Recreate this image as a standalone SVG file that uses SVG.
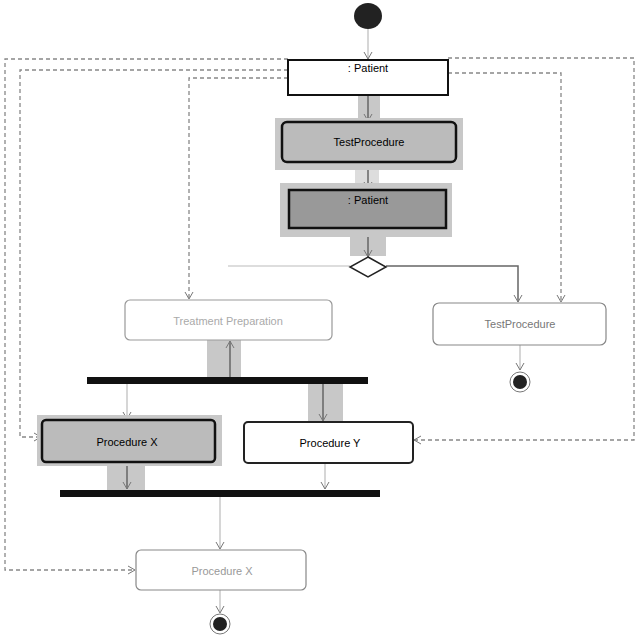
<svg xmlns="http://www.w3.org/2000/svg" width="640" height="640" viewBox="0 0 640 640">
<defs>
<marker id="arr" markerWidth="10" markerHeight="10" refX="8" refY="5" orient="auto" markerUnits="userSpaceOnUse">
<path d="M1,1 L8,5 L1,9" fill="none" stroke="#777" stroke-width="1"/>
</marker>
<style>
text{font-family:"Liberation Sans",Arial,sans-serif;font-size:11px;text-anchor:middle;dominant-baseline:middle}
.band{fill:#c8c8c8}
.flow{fill:none;stroke:#666;stroke-width:1.5}
.faint{fill:none;stroke:#bbb;stroke-width:1.2}
.dash{fill:none;stroke:#888;stroke-width:1.3;stroke-dasharray:4,3}
.bar{fill:#111}
</style>
</defs>
<rect width="640" height="640" fill="#fff"/>
<g id="connectors">
<rect class="band" x="358" y="95" width="22" height="25"/>
<rect x="355" y="170" width="24" height="13" fill="#ddd"/>
<rect class="band" x="350" y="228" width="36" height="28"/>
<rect x="350" y="228" width="36" height="8" fill="#999"/>
<rect class="band" x="207" y="340" width="34" height="37"/>
<rect class="band" x="308" y="384" width="35" height="38"/>
<rect class="band" x="107" y="466" width="38" height="24" fill="#ddd"/>
<line class="faint" x1="368" y1="29" x2="368" y2="59" marker-end="url(#arr)"/>
<line class="flow" x1="368" y1="95" x2="368" y2="121" marker-end="url(#arr)"/>
<line class="flow" x1="368" y1="162" x2="368" y2="189" marker-end="url(#arr)"/>
<line class="flow" x1="368" y1="228" x2="368" y2="257" marker-end="url(#arr)"/>
<line class="faint" x1="350" y1="266" x2="228" y2="266"/>
<polyline class="flow" points="386,266 518,266 518,302" marker-end="url(#arr)" stroke="#888"/>
<line class="faint" x1="520" y1="345" x2="520" y2="370" marker-end="url(#arr)"/>
<line class="flow" x1="230" y1="377" x2="230" y2="341" marker-end="url(#arr)"/>
<line class="faint" x1="127" y1="384" x2="127" y2="419" marker-end="url(#arr)" stroke="#999"/>
<line class="flow" x1="323" y1="384" x2="323" y2="421" marker-end="url(#arr)"/>
<line class="flow" x1="127" y1="462" x2="127" y2="489" marker-end="url(#arr)"/>
<line class="faint" x1="325" y1="463" x2="325" y2="489" marker-end="url(#arr)"/>
<line class="faint" x1="220" y1="497" x2="220" y2="549" marker-end="url(#arr)"/>
<line class="faint" x1="220" y1="590" x2="220" y2="613" marker-end="url(#arr)"/>
<polyline class="dash" points="288,59 5,59 5,570 135,570" marker-end="url(#arr)"/>
<polyline class="dash" points="288,70 20,70 20,437 41,437" marker-end="url(#arr)"/>
<polyline class="dash" points="288,78 189,78 189,299" marker-end="url(#arr)"/>
<polyline class="dash" points="448,58 634,58 634,440 414,440" marker-end="url(#arr)"/>
<polyline class="dash" points="448,73 561,73 561,302" marker-end="url(#arr)"/>
</g>
<g id="start"><ellipse cx="368" cy="16" rx="14" ry="13" fill="#222"/></g>
<g id="patient1">
<rect x="288" y="60" width="160" height="35" fill="#fff" stroke="#111" stroke-width="2"/>
<text x="368" y="69">: Patient</text>
</g>
<g id="testprocedure1">
<rect class="band" x="275" y="118" width="188" height="52"/>
<rect x="282" y="122" width="174" height="40" rx="5" fill="#bbb" stroke="#111" stroke-width="2.5"/>
<text x="369" y="143">TestProcedure</text>
</g>
<g id="patient2">
<rect class="band" x="280" y="183" width="172" height="54" fill="#aaa"/>
<rect x="289" y="190" width="157" height="38" fill="#999" stroke="#111" stroke-width="2.5"/>
<text x="368" y="201">: Patient</text>
</g>
<g id="decision"><polygon points="368,257 386,267 368,277 350,267" fill="#fff" stroke="#222" stroke-width="1.5"/></g>
<g id="treatment">
<rect x="125" y="300" width="207" height="40" rx="5" fill="#fff" stroke="#999" stroke-width="1.2"/>
<text x="228" y="322" fill="#aaa">Treatment Preparation</text>
</g>
<g id="testprocedure2">
<rect x="433" y="303" width="173" height="42" rx="6" fill="#fff" stroke="#888" stroke-width="1.2"/>
<text x="520" y="325" fill="#777">TestProcedure</text>
</g>
<g id="end1"><circle cx="520" cy="382" r="10" fill="#fff" stroke="#777"/><circle cx="520" cy="382" r="7" fill="#222"/></g>
<g id="fork"><rect class="bar" x="87" y="377" width="281" height="7"/></g>
<g id="procx1">
<rect class="band" x="37" y="415" width="185" height="51"/>
<rect x="42" y="420" width="173" height="42" rx="4" fill="#bbb" stroke="#111" stroke-width="2.5"/>
<text x="127" y="443">Procedure X</text>
</g>
<g id="procy">
<rect x="244" y="422" width="169" height="41" rx="4" fill="#fff" stroke="#222" stroke-width="2"/>
<text x="330" y="444">Procedure Y</text>
</g>
<g id="join"><rect class="bar" x="60" y="490" width="320" height="7"/></g>
<g id="procx2">
<rect x="136" y="550" width="170" height="40" rx="5" fill="#fff" stroke="#888" stroke-width="1.2"/>
<text x="222" y="572" fill="#999">Procedure X</text>
</g>
<g id="end2"><circle cx="220" cy="624" r="10" fill="#fff" stroke="#777"/><circle cx="220" cy="624" r="7" fill="#222"/></g>
</svg>
